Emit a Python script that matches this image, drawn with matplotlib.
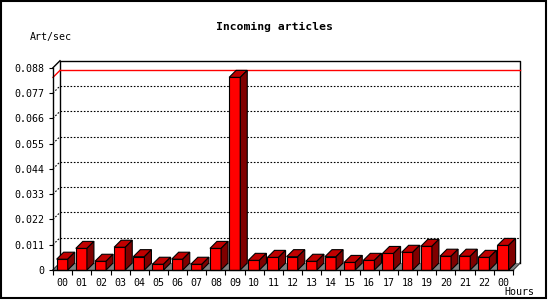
import numpy as np
import matplotlib
matplotlib.use("Agg")
import matplotlib.pyplot as plt
from matplotlib.patches import Polygon, Rectangle

# hourly incoming article rate (articles per second)
hours = ["00", "01", "02", "03", "04", "05", "06", "07", "08", "09", "10", "11",
         "12", "13", "14", "15", "16", "17", "18", "19", "20", "21", "22", "00"]
rate = [0.0047, 0.0094, 0.0038, 0.0099, 0.0058, 0.0025, 0.0047, 0.0025,
        0.0094, 0.0838, 0.0042, 0.0055, 0.0058, 0.0038, 0.0058, 0.0033,
        0.0042, 0.0072, 0.0077, 0.0103, 0.0060, 0.0060, 0.0055, 0.0107]
yticks = [0, 0.011, 0.022, 0.033, 0.044, 0.055, 0.066, 0.077, 0.088]
ytick_labels = ["0", "0.011", "0.022", "0.033", "0.044", "0.055", "0.066", "0.077", "0.088"]

FONT = "DejaVu Sans Mono"
DEPTH = 7  # pixels of fake 3d depth

fig = plt.figure(figsize=(5.5, 3), dpi=100)
ax = fig.add_axes([53 / 550, 30 / 300, 460 / 550, 202.3 / 300])
n = len(rate)
ymax = yticks[-1]
ax.set_xlim(0, n)
ax.set_ylim(0, ymax)

# depth in data units
dx = n * DEPTH / 460
dy = ymax * DEPTH / 202.3

for s in ["top", "right"]:
    ax.spines[s].set_visible(False)
for s in ["left", "bottom"]:
    ax.spines[s].set_linewidth(1)
    ax.spines[s].set_zorder(6)

ax.set_yticks(yticks)
ax.set_yticklabels(ytick_labels, fontfamily=FONT, fontsize=7.2)
ax.tick_params(axis="y", direction="out", length=3, width=0.8, pad=3)

ax.set_xticks(np.arange(n) + 0.5)
ax.set_xticklabels(hours, fontfamily=FONT, fontsize=7.2)
ax.set_xticks(np.arange(n + 1), minor=True)
ax.tick_params(axis="x", which="major", length=0, pad=6)
ax.tick_params(axis="x", which="minor", direction="out", length=3.5, width=0.8)

def poly(pts, **kw):
    p = Polygon(pts, closed=True, clip_on=False, **kw)
    ax.add_patch(p)

# back wall outline
ax.plot([dx, dx, n + dx, n + dx], [dy, ymax + dy, ymax + dy, dy],
        color="black", lw=1, clip_on=False, zorder=2)
# wall edges on the left side and right floor corner
for x0, y0 in [(0, ymax), (0, 0), (n, 0)]:
    ax.plot([x0, x0 + dx], [y0, y0 + dy], color="black", lw=1, clip_on=False, zorder=2)

# dotted grid lines on back wall and side wall
for v in yticks[1:-1]:
    ax.plot([dx, n + dx], [v + dy, v + dy], color="black", lw=0.8,
            linestyle=(0, (1.5, 1.5)), clip_on=False, zorder=1)
    ax.plot([0, dx], [v, v + dy], color="black", lw=0.8,
            linestyle=(0, (1.5, 1.5)), clip_on=False, zorder=1)

# red max line
m = max(rate)
ax.plot([dx, n + dx], [m + dy, m + dy], color="red", lw=1, clip_on=False, zorder=2)
ax.plot([0, dx], [m, m + dy], color="red", lw=1, clip_on=False, zorder=2)

# grey floor
poly([(0, 0), (dx, dy), (n + dx, dy), (n, 0)], facecolor="#808080",
     edgecolor="none", zorder=3)

# bars
a, w = 0.19, 0.58
for i, v in enumerate(rate):
    x0 = i + a
    x1 = x0 + w
    poly([(x0, 0), (x1, 0), (x1, v), (x0, v)], facecolor="#ff0000",
         edgecolor="black", lw=0.8, zorder=4)
    poly([(x0, v), (x1, v), (x1 + dx, v + dy), (x0 + dx, v + dy)],
         facecolor="#c00000", edgecolor="black", lw=0.8, zorder=4)
    poly([(x1, 0), (x1 + dx, dy), (x1 + dx, v + dy), (x1, v)],
         facecolor="#800000", edgecolor="black", lw=0.8, zorder=4)

fig.text(274 / 550, 1 - 27 / 300, "Incoming articles", ha="center", va="center",
         fontfamily=FONT, fontsize=8.2, fontweight="bold")
fig.text(30 / 550, 1 - 37 / 300, "Art/sec", ha="left", va="center",
         fontfamily=FONT, fontsize=7.2)
fig.text(504 / 550, 1 - 292 / 300, "Hours", ha="left", va="center",
         fontfamily=FONT, fontsize=7.2)

# outer frame
fig.patches.append(Rectangle((1 / 550, 2 / 300), 545 / 550, 297 / 300,
                             transform=fig.transFigure, fill=False,
                             edgecolor="black", lw=1.5))

fig.savefig("out.png", dpi=100)
